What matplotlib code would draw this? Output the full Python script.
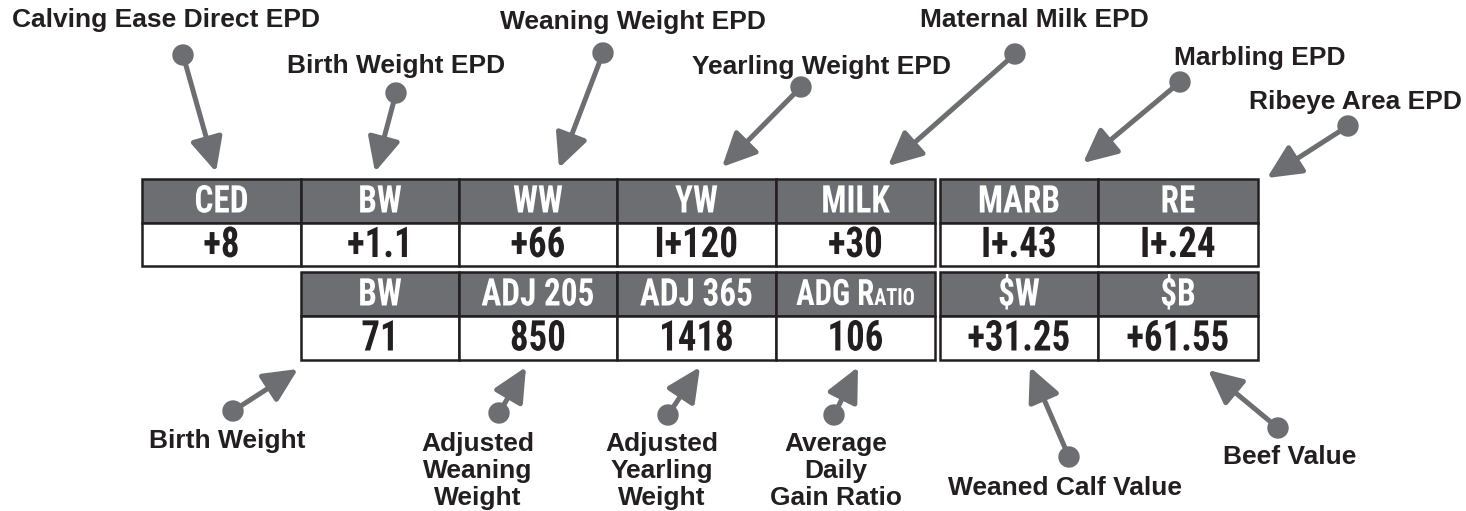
import matplotlib
matplotlib.use("Agg")
import matplotlib.pyplot as plt
from matplotlib.patches import Rectangle, Circle
from matplotlib.patheffects import AbstractPathEffect
from matplotlib.transforms import Affine2D
from matplotlib.offsetbox import TextArea, HPacker, AnnotationBbox
from matplotlib import font_manager

# table contents
top_headers = ["CED", "BW", "WW", "YW", "MILK", "MARB", "RE"]
top_values = ["+8", "+1.1", "+66", "I+120", "+30", "I+.43", "I+.24"]
bottom_headers = ["BW", "ADJ 205", "ADJ 365", ("ADG R", "ATIO"), "\\$W", "\\$B"]
bottom_values = ["71", "850", "1418", "106", "+31.25", "+61.55"]

# callout labels
top_labels = ["Calving Ease Direct EPD", "Birth Weight EPD", "Weaning Weight EPD",
              "Yearling Weight EPD", "Maternal Milk EPD", "Marbling EPD", "Ribeye Area EPD"]
bottom_labels = ["Birth Weight", "Adjusted\nWeaning\nWeight", "Adjusted\nYearling\nWeight",
                 "Average\nDaily\nGain Ratio", "Weaned Calf Value", "Beef Value"]

# layout (pixel coordinates, y down)
col_x = [142, 301, 459, 617, 776, 940, 1098]
col_w = [159, 158, 158, 159, 159, 158, 160]
top_cols = [0, 1, 2, 3, 4, 5, 6]
bottom_cols = [1, 2, 3, 4, 5, 6]
rows = {"top_head": (179, 44), "top_val": (223, 43), "bot_head": (272, 44), "bot_val": (316, 44)}

top_label_xy = [(166, 20), (396, 66), (633, 22), (821, 67), (1034, 20), (1260, 58), (1355, 102)]
top_dots = [(183, 55), (396, 93), (603, 53), (801, 87), (1015, 54), (1180, 82), (1348, 126)]
top_tips = [(216, 172), (375, 172), (559, 168), (722, 167), (888, 166), (1083, 163), (1267, 178)]
bottom_label_xy = [(227, 441), (478, 471), (662, 471), (836, 471), (1065, 488), (1290, 457)]
bottom_dots = [(233, 411), (499, 413), (668, 415), (834, 415), (1069, 457), (1278, 428)]
bottom_tips = [(298, 369), (526, 367), (700, 367), (858, 367), (1030, 367), (1208, 370)]

gray = "#6d6e71"
dark = "#231f20"

# condensed font for the table
names = {f.name for f in font_manager.fontManager.ttflist}
if "Liberation Sans Narrow" in names:
    cond = dict(family="Liberation Sans Narrow")
elif "Roboto Condensed" in names:
    cond = dict(family="Roboto Condensed")
else:
    cond = dict(family="DejaVu Sans", stretch="condensed")
label_font = dict(family="Liberation Sans", fontweight="bold", fontsize=19, color=dark)

fig = plt.figure(figsize=(14.66, 5.11), dpi=100)
ax = fig.add_axes([0, 0, 1, 1])
ax.set_xlim(0, 1466)
ax.set_ylim(511, 0)
ax.axis("off")


class Squeeze(AbstractPathEffect):
    # narrow the glyphs horizontally around a fixed x (data coords)
    def __init__(self, sx, xc):
        super().__init__()
        self.sx = sx
        self.xc = xc

    def draw_path(self, renderer, gc, tpath, affine, rgbFace=None):
        cx = ax.transData.transform((self.xc, 0))[0]
        squeeze = Affine2D().translate(-cx, 0).scale(self.sx, 1).translate(cx, 0)
        renderer.draw_path(gc, tpath, affine + squeeze, rgbFace)


def cell(col, row, text, header):
    y, h = rows[row]
    x, w = col_x[col], col_w[col]
    ax.add_patch(Rectangle((x, y), w, h, facecolor=gray if header else "white",
                           edgecolor=dark, lw=1.8, zorder=2))
    cx, cy = x + w / 2, y + h / 2 + 1
    color = "white" if header else dark
    size = 27.5 if header else 30.5
    if isinstance(text, tuple):
        props = dict(color=color, fontweight="bold", **cond)
        big = TextArea(text[0], textprops=dict(fontsize=size * 0.95, **props))
        small = TextArea(text[1], textprops=dict(fontsize=size * 0.62, **props))
        pack = HPacker(children=[big, small], align="baseline", pad=0, sep=0)
        ab = AnnotationBbox(pack, (cx, cy), frameon=False, box_alignment=(0.5, 0.5), zorder=3)
        ax.add_artist(ab)
        for ta in (big, small):
            ta._text.set_path_effects([Squeeze(0.85, cx)])
    else:
        t = ax.text(cx, cy, text, ha="center", va="center", color=color, fontsize=size,
                    fontweight="bold", zorder=3, **cond)
        t.set_path_effects([Squeeze(0.87, cx)])


for c, h, v in zip(top_cols, top_headers, top_values):
    cell(c, "top_head", h, True)
    cell(c, "top_val", v, False)
for c, h, v in zip(bottom_cols, bottom_headers, bottom_values):
    cell(c, "bot_head", h, True)
    cell(c, "bot_val", v, False)


def callout(label, lxy, dot, tip):
    ax.text(lxy[0], lxy[1], label, ha="center", va="center", linespacing=1.16, **label_font)
    ax.annotate("", xy=tip, xytext=dot,
                arrowprops=dict(arrowstyle="-|>,head_length=1.15,head_width=0.55",
                                lw=3.6, color=gray, shrinkA=0, shrinkB=0, mutation_scale=18))
    ax.add_patch(Circle(dot, 10, color=gray, zorder=4))


for args in zip(top_labels, top_label_xy, top_dots, top_tips):
    callout(*args)
for args in zip(bottom_labels, bottom_label_xy, bottom_dots, bottom_tips):
    callout(*args)

fig.savefig("out.png", dpi=100)
